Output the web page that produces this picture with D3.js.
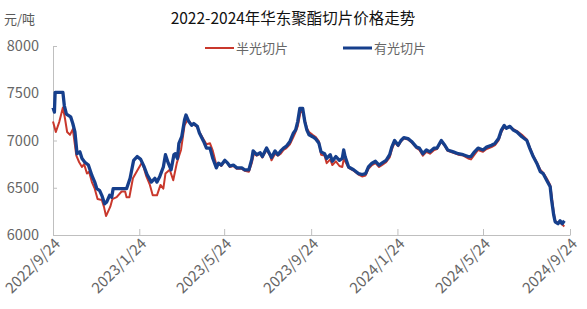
<!DOCTYPE html>
<html>
<head>
<meta charset="utf-8">
<script src="https://cdn.jsdelivr.net/npm/d3@7"></script>
<style>
  body { margin: 0; background: #fff; }
  svg text { font-family: "Noto Sans CJK SC", "Noto Sans", sans-serif; }
</style>
</head>
<body>
<svg id="chart" width="587" height="309"></svg>
<script>
// 有光切片
const glossyDates = ["2022-09-24","2022-09-26","2022-09-27","2022-10-08","2022-10-10","2022-10-13","2022-10-19","2022-10-22","2022-10-25","2022-10-28",
  "2022-11-01","2022-11-04","2022-11-08","2022-11-13","2022-11-18","2022-11-22","2022-11-25","2022-11-29","2022-12-02","2022-12-06",
  "2022-12-09","2022-12-13","2022-12-16","2022-12-18","2023-01-06","2023-01-11","2023-01-16","2023-01-21","2023-01-26","2023-01-31",
  "2023-02-04","2023-02-10","2023-02-15","2023-02-18","2023-02-22","2023-02-27","2023-03-02","2023-03-06","2023-03-10","2023-03-14",
  "2023-03-16","2023-03-19","2023-03-21","2023-03-25","2023-03-29","2023-03-31","2023-04-04","2023-04-08","2023-04-11","2023-04-16",
  "2023-04-19","2023-04-25","2023-04-29","2023-05-04","2023-05-08","2023-05-13","2023-05-16","2023-05-20","2023-05-25","2023-05-29",
  "2023-06-01","2023-06-06","2023-06-11","2023-06-18","2023-06-22","2023-06-28","2023-07-02","2023-07-04","2023-07-09","2023-07-14",
  "2023-07-17","2023-07-23","2023-07-28","2023-07-30","2023-08-04","2023-08-08","2023-08-12","2023-08-16","2023-08-20","2023-08-25",
  "2023-08-30","2023-09-02","2023-09-05","2023-09-08","2023-09-12","2023-09-15","2023-09-18","2023-09-21","2023-09-26","2023-09-30",
  "2023-10-05","2023-10-08","2023-10-13","2023-10-16","2023-10-21","2023-10-24","2023-10-29","2023-11-03","2023-11-07","2023-11-09",
  "2023-11-11","2023-11-16","2023-11-23","2023-11-30","2023-12-05","2023-12-10","2023-12-14","2023-12-19","2023-12-24","2023-12-29",
  "2024-01-02","2024-01-08","2024-01-13","2024-01-16","2024-01-20","2024-01-25","2024-01-29","2024-02-02","2024-02-08","2024-02-13",
  "2024-02-20","2024-02-24","2024-02-29","2024-03-05","2024-03-10","2024-03-16","2024-03-20","2024-03-26","2024-03-31","2024-04-04",
  "2024-04-12","2024-04-19","2024-04-26","2024-05-03","2024-05-07","2024-05-12","2024-05-17","2024-05-24","2024-05-29","2024-06-05",
  "2024-06-10","2024-06-15","2024-06-19","2024-06-23","2024-06-26","2024-07-01","2024-07-06","2024-07-11","2024-07-18","2024-07-25",
  "2024-07-29","2024-08-03","2024-08-08","2024-08-13","2024-08-17","2024-08-22","2024-08-27","2024-08-29","2024-09-01","2024-09-03",
  "2024-09-07","2024-09-10","2024-09-13","2024-09-16"];
const glossyValues = [7350,7300,7510,7510,7370,7280,7250,7180,7090,6860,
  6880,6810,6770,6740,6630,6560,6490,6470,6420,6330,
  6350,6420,6400,6490,6490,6600,6790,6830,6800,6720,
  6640,6560,6600,6560,6620,6720,6850,6760,6690,6850,
  6860,6810,6970,7040,7220,7270,7200,7160,7180,7150,
  7080,6990,6920,6920,6810,6710,6760,6740,6790,6760,
  6730,6740,6710,6710,6690,6690,6800,6890,6850,6870,
  6830,6920,6850,6820,6890,6850,6890,6920,6940,6990,
  7080,7110,7200,7340,7340,7200,7110,7060,7040,7020,
  6970,6880,6860,6810,6850,6780,6830,6790,6810,6900,
  6830,6720,6690,6650,6640,6650,6720,6760,6780,6740,
  6760,6790,6850,6930,7000,6950,7000,7030,7020,6990,
  6930,6920,6860,6900,6880,6920,6920,7000,6950,6900,
  6880,6860,6850,6830,6830,6880,6920,6900,6930,6950,
  6970,7020,7110,7160,7130,7150,7110,7090,7040,7000,
  6920,6830,6760,6670,6650,6580,6510,6370,6210,6140,
  6120,6150,6120,6150];

// 半光切片
const semiDates = ["2022-09-24","2022-09-28","2022-10-03","2022-10-08","2022-10-11","2022-10-14","2022-10-18","2022-10-22","2022-10-27","2022-10-31",
  "2022-11-04","2022-11-07","2022-11-11","2022-11-14","2022-11-18","2022-11-22","2022-11-26","2022-12-02","2022-12-05","2022-12-08",
  "2022-12-14","2022-12-17","2022-12-23","2022-12-30","2023-01-04","2023-01-06","2023-01-10","2023-01-15","2023-01-21","2023-01-28",
  "2023-02-03","2023-02-08","2023-02-12","2023-02-18","2023-02-23","2023-02-27","2023-03-02","2023-03-08","2023-03-13","2023-03-18",
  "2023-03-21","2023-03-24","2023-03-29","2023-04-02","2023-04-05","2023-04-08","2023-04-11","2023-04-16","2023-04-19","2023-04-25",
  "2023-04-29","2023-05-04","2023-05-08","2023-05-13","2023-05-16","2023-05-20","2023-05-25","2023-05-29","2023-06-01","2023-06-06",
  "2023-06-11","2023-06-18","2023-06-22","2023-06-28","2023-07-02","2023-07-05","2023-07-09","2023-07-14","2023-07-17","2023-07-23",
  "2023-07-28","2023-07-30","2023-08-04","2023-08-08","2023-08-12","2023-08-16","2023-08-20","2023-08-25","2023-08-30","2023-09-02",
  "2023-09-05","2023-09-09","2023-09-12","2023-09-15","2023-09-18","2023-09-21","2023-09-26","2023-09-30","2023-10-05","2023-10-08",
  "2023-10-13","2023-10-16","2023-10-21","2023-10-24","2023-10-29","2023-11-03","2023-11-07","2023-11-09","2023-11-11","2023-11-16",
  "2023-11-23","2023-11-30","2023-12-05","2023-12-10","2023-12-14","2023-12-19","2023-12-24","2023-12-29","2024-01-02","2024-01-08",
  "2024-01-13","2024-01-16","2024-01-20","2024-01-25","2024-01-29","2024-02-02","2024-02-08","2024-02-13","2024-02-20","2024-02-24",
  "2024-02-29","2024-03-05","2024-03-10","2024-03-16","2024-03-20","2024-03-26","2024-03-31","2024-04-04","2024-04-12","2024-04-19",
  "2024-04-26","2024-05-03","2024-05-07","2024-05-12","2024-05-17","2024-05-24","2024-05-29","2024-06-05","2024-06-10","2024-06-15",
  "2024-06-19","2024-06-23","2024-06-26","2024-07-01","2024-07-06","2024-07-11","2024-07-18","2024-07-25","2024-07-29","2024-08-03",
  "2024-08-08","2024-08-13","2024-08-17","2024-08-22","2024-08-27","2024-08-29","2024-09-01","2024-09-03","2024-09-07","2024-09-10",
  "2024-09-13","2024-09-16"];
const semiValues = [7200,7090,7200,7350,7230,7090,7060,7120,6840,6770,
  6720,6750,6650,6670,6560,6490,6380,6370,6300,6200,
  6300,6380,6400,6460,6460,6400,6400,6600,6680,6770,
  6620,6530,6420,6420,6530,6490,6650,6690,6580,6760,
  6830,6900,7160,7220,7200,7170,7170,7140,7090,7010,
  6960,6970,6890,6740,6760,6730,6780,6760,6720,6730,
  6700,6700,6680,6670,6760,6860,6840,6860,6820,6900,
  6840,6790,6860,6840,6860,6900,6920,6960,7040,7090,
  7150,7300,7310,7220,7130,7090,7060,7040,6990,6850,
  6840,6760,6800,6740,6780,6730,6720,6800,6780,6710,
  6680,6640,6620,6630,6700,6740,6760,6720,6740,6770,
  6820,6900,6980,6940,6990,7020,7010,6980,6920,6900,
  6840,6880,6860,6900,6910,6990,6940,6890,6870,6850,
  6840,6810,6800,6850,6900,6880,6910,6930,6950,7000,
  7090,7140,7130,7150,7120,7100,7060,7010,6930,6840,
  6770,6690,6660,6600,6530,6420,6240,6150,6130,6130,
  6110,6090];

const tickDates = ["2022-09-24","2023-01-24","2023-05-24","2023-09-24","2024-01-24","2024-05-24","2024-09-24"];
const yTicks = [6000, 6500, 7000, 7500, 8000];
const seriesNames = ["半光切片", "有光切片"];
const seriesColors = ["#c9382c", "#163f8c"];

const parse = d3.timeParse("%Y-%m-%d");
const fmt = d3.timeFormat("%Y/%-m/%-d");

const svg = d3.select("#chart");
const x = d3.scaleTime()
  .domain([parse("2022-09-24"), parse("2024-09-24")])
  .range([53, 570]);
const y = d3.scaleLinear()
  .domain([6000, 8000])
  .range([235, 46]);

// title + unit
svg.append("text")
  .attr("x", 293).attr("y", 24)
  .attr("text-anchor", "middle")
  .attr("font-size", 15.5)
  .attr("fill", "#111")
  .text("2022-2024年华东聚酯切片价格走势");

svg.append("text")
  .attr("x", 4).attr("y", 24)
  .attr("font-size", 13)
  .attr("fill", "#595959")
  .text("元/吨");

// y axis
const yAxis = svg.append("g")
  .attr("transform", "translate(53,0)")
  .call(d3.axisLeft(y).tickValues(yTicks).tickSize(-4).tickPadding(14).tickFormat(d3.format("d")));
yAxis.select(".domain").attr("stroke", "#bfbfbf");
yAxis.selectAll(".tick line").attr("stroke", "#bfbfbf");
yAxis.selectAll(".tick text")
  .attr("font-size", 14.5)
  .attr("fill", "#666")
  .attr("font-family", "'Noto Sans', sans-serif");

// x axis
const xAxis = svg.append("g")
  .attr("transform", "translate(0,235)")
  .call(d3.axisBottom(x).tickValues(tickDates.map(parse)).tickSize(-6).tickSizeOuter(0).tickFormat(fmt));
xAxis.select(".domain").attr("stroke", "#bfbfbf");
xAxis.selectAll(".tick line").attr("stroke", "#bfbfbf");
xAxis.selectAll(".tick text")
  .attr("font-size", 15)
  .attr("fill", "#666")
  .attr("font-family", "'Noto Sans', sans-serif")
  .attr("text-anchor", "end")
  .attr("transform", "translate(4,6) rotate(-45)")
  .attr("dy", "0.35em")
  .attr("y", 0)
  .attr("x", 0);

// lines
const line = d3.line()
  .x(d => x(d.date))
  .y(d => y(d.value));

const semi = semiDates.map((d, i) => ({ date: parse(d), value: semiValues[i] }));
const glossy = glossyDates.map((d, i) => ({ date: parse(d), value: glossyValues[i] }));

svg.append("path")
  .datum(semi)
  .attr("fill", "none")
  .attr("stroke", seriesColors[0])
  .attr("stroke-width", 2)
  .attr("stroke-linejoin", "round")
  .attr("d", line);

svg.append("path")
  .datum(glossy)
  .attr("fill", "none")
  .attr("stroke", seriesColors[1])
  .attr("stroke-width", 3.3)
  .attr("stroke-linejoin", "round")
  .attr("d", line);

// legend
const legendX = [205, 343];
const lg = svg.selectAll("g.legend")
  .data(seriesNames)
  .join("g")
  .attr("class", "legend")
  .attr("transform", (d, i) => `translate(${legendX[i]},48)`);
lg.append("line")
  .attr("x1", 0).attr("x2", 29)
  .attr("stroke", (d, i) => seriesColors[i])
  .attr("stroke-width", (d, i) => i ? 3 : 2);
lg.append("text")
  .attr("x", 31).attr("y", 0)
  .attr("dy", "0.35em")
  .attr("font-size", 13)
  .attr("fill", "#666")
  .text(d => d);
</script>
</body>
</html>
